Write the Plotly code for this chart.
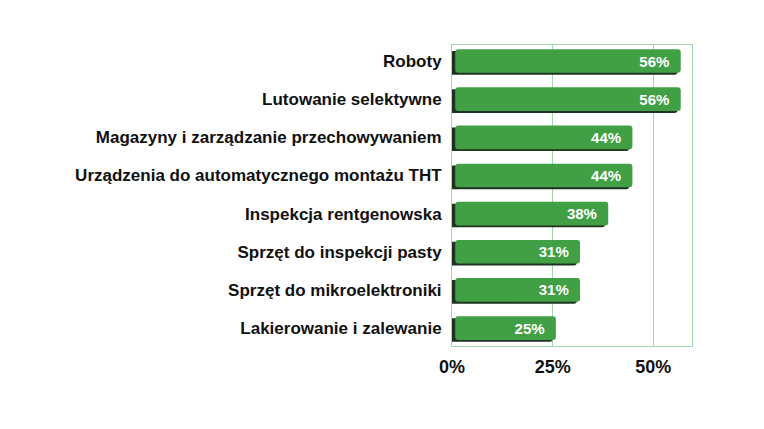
import plotly.graph_objects as go

# dane z wykresu (od góry do dołu)
categories = [
    "Roboty",
    "Lutowanie selektywne",
    "Magazyny i zarządzanie przechowywaniem",
    "Urządzenia do automatycznego montażu THT",
    "Inspekcja rentgenowska",
    "Sprzęt do inspekcji pasty",
    "Sprzęt do mikroelektroniki",
    "Lakierowanie i zalewanie",
]
values = [56, 56, 44, 44, 38, 31, 31, 25]
tick_vals = [0, 25, 50]
tick_text = ["0%", "25%", "50%"]

FONT = "Liberation Sans, Arial, sans-serif"
GRID = "#9fd9ad"
BAR_W = 0.62

fig = go.Figure()

# ciemny "cień" pod słupkiem (efekt 3D)
fig.add_trace(go.Bar(
    y=categories, x=values, orientation="h",
    width=BAR_W, offset=-BAR_W / 2 + 0.05,
    marker=dict(color="#1e331f", line=dict(width=0), cornerradius=3),
    hoverinfo="skip", showlegend=False,
))

# właściwy zielony słupek
fig.add_trace(go.Bar(
    y=categories, x=values, base=0.8, orientation="h",
    width=BAR_W, offset=-BAR_W / 2,
    marker=dict(color="#41a045", line=dict(width=0), cornerradius=3),
    text=[f"{v}%\u00a0\u00a0" for v in values],
    textposition="inside", insidetextanchor="end",
    textfont=dict(family=FONT, size=15, color="white", weight="bold"),
    showlegend=False,
))

fig.update_layout(
    width=764, height=429,
    margin=dict(l=444, r=80, t=37, b=91),
    paper_bgcolor="white", plot_bgcolor="white",
    barmode="overlay",
    font=dict(family=FONT, color="#111111"),
)

fig.update_xaxes(
    range=[0, 59.6],
    tickvals=tick_vals, ticktext=tick_text,
    tickfont=dict(family=FONT, size=18, color="#111111", weight="bold"),
    showgrid=True, gridcolor=GRID, gridwidth=1,
    showline=True, linecolor=GRID, linewidth=1, mirror=True,
    zeroline=False, ticks="", ticklabelstandoff=4,
)
fig.update_yaxes(
    range=[7.47, -0.42],
    tickfont=dict(family=FONT, size=17, color="#111111", weight="bold"),
    showgrid=False,
    showline=True, linecolor=GRID, linewidth=1, mirror=True,
    ticks="", ticklabelstandoff=6,
)

fig.write_html("out.html")
